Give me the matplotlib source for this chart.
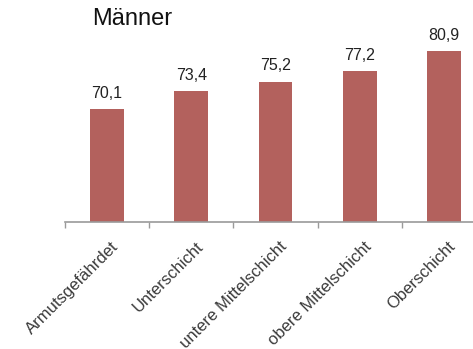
import matplotlib
matplotlib.use('Agg')
import matplotlib.pyplot as plt
import matplotlib.transforms as mtransforms

# Lebenserwartung Männer nach Schicht
kategorien = ['Armutsgefährdet', 'Unterschicht', 'untere Mittelschicht',
              'obere Mittelschicht', 'Oberschicht']
werte = [70.1, 73.4, 75.2, 77.2, 80.9]
beschriftungen = ['70,1', '73,4', '75,2', '77,2', '80,9']

plt.rcParams['font.family'] = ['Liberation Sans', 'DejaVu Sans']

fig = plt.figure(figsize=(4.73, 3.49), dpi=100)
ax = fig.add_axes([65/473, 1-222/349, 421/473, 192/349])

x = list(range(len(werte)))
bars = ax.bar(x, werte, width=0.4, color='#b3615d', bottom=0)
ax.set_ylim(49, 84.85)
ax.set_xlim(-0.5, 4.5)

for xi, v, t in zip(x, werte, beschriftungen):
    ax.annotate(t, (xi, v), xytext=(0, 6), textcoords='offset points',
                ha='center', va='bottom', fontsize=11.5, color='#222222')

for s in ['top', 'right', 'left']:
    ax.spines[s].set_visible(False)
ax.spines['bottom'].set_color('#9a9a9a')
ax.spines['bottom'].set_linewidth(1.2)
ax.set_yticks([])

ax.set_xticks(x)
ax.set_xticklabels(kategorien, rotation=45, ha='right', rotation_mode='anchor',
                   fontsize=12, color='#3a3a3a')
ax.tick_params(axis='x', which='major', length=0, pad=12)
shift = mtransforms.ScaledTranslation(4/100, 0, fig.dpi_scale_trans)
for lab in ax.get_xticklabels():
    lab.set_transform(lab.get_transform() + shift)
ax.set_xticks([i - 0.5 for i in range(len(werte) + 1)], minor=True)
ax.tick_params(axis='x', which='minor', length=4, color='#9a9a9a', width=1)

fig.text(92/473, 1-19/349, 'Männer', fontsize=17, ha='left', va='center', color='#111111')

fig.savefig('out.png', dpi=100)
